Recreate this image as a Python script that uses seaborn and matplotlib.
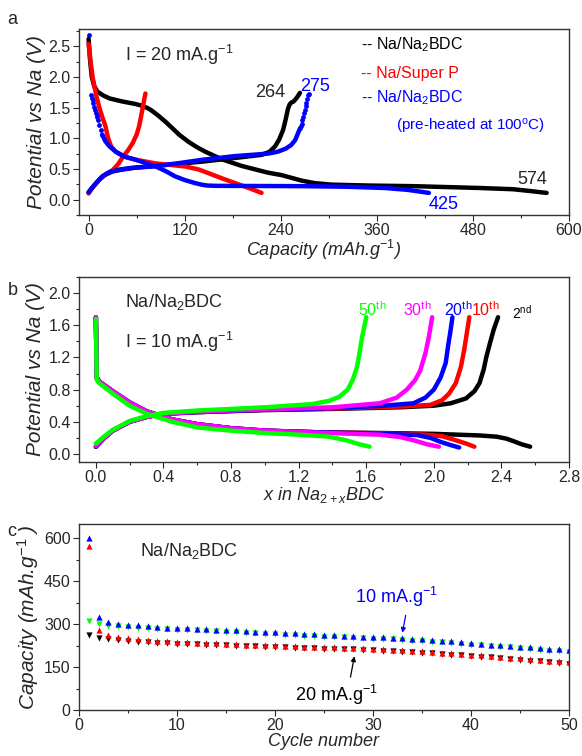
import matplotlib.pyplot as plt
import matplotlib.ticker as mticker
import seaborn as sns

sns.set_theme(style="ticks")
plt.rcParams["font.family"] = ["Liberation Sans", "DejaVu Sans"]
plt.rcParams["mathtext.fontset"] = "custom"
plt.rcParams["mathtext.rm"] = "Liberation Sans"
plt.rcParams["mathtext.it"] = "Liberation Sans:italic"
plt.rcParams["mathtext.bf"] = "Liberation Sans:bold"

# ---- panel a: first cycle at 20 mA/g ----
bdc_dis_x = [0, 2, 4, 7, 11, 18, 26, 42, 58, 67, 74, 79, 87, 96, 105, 113, 125, 136, 146, 166, 191, 224, 241,
             255, 266, 282, 303, 350, 406, 489, 530, 552, 572]
bdc_dis_y = [2.62, 2.25, 2.0, 1.85, 1.76, 1.70, 1.65, 1.6, 1.56, 1.53, 1.49, 1.45, 1.37, 1.27, 1.16, 1.06, 0.94,
             0.85, 0.78, 0.66, 0.55, 0.44, 0.40, 0.35, 0.31, 0.27, 0.245, 0.23, 0.22, 0.19, 0.17, 0.14, 0.11]
bdc_chg_x = [0, 5, 13, 20, 30, 42, 58, 100, 142, 183, 216, 226, 233, 238, 243, 246, 249, 251, 253, 256, 260, 264]
bdc_chg_y = [0.12, 0.2, 0.32, 0.4, 0.46, 0.49, 0.52, 0.57, 0.62, 0.68, 0.73, 0.78, 0.87, 0.98, 1.14, 1.3, 1.48,
             1.55, 1.58, 1.60, 1.66, 1.74]

sp_dis_x = [0, 2, 5, 9, 13, 17, 21, 24, 28, 34, 45, 59, 84, 121, 138, 150, 166, 183, 200, 216]
sp_dis_y = [2.54, 2.3, 2.0, 1.73, 1.52, 1.35, 1.2, 1.02, 0.87, 0.78, 0.70, 0.65, 0.59, 0.54, 0.49, 0.43, 0.35,
            0.27, 0.19, 0.11]
sp_chg_x = [0, 5, 13, 20, 30, 37, 42, 49, 55, 60, 63, 65, 67, 69, 71]
sp_chg_y = [0.1, 0.2, 0.32, 0.4, 0.48, 0.58, 0.68, 0.8, 0.92, 1.06, 1.19, 1.32, 1.46, 1.6, 1.73]

heat_dis_dot_x = [0, 3, 4, 5, 6, 7, 8, 9, 10, 11, 12, 13, 15, 17]
heat_dis_dot_y = [2.68, 1.70, 1.66, 1.62, 1.57, 1.51, 1.46, 1.42, 1.38, 1.35, 1.30, 1.22, 1.14, 1.06]
heat_dis_x = [17, 21, 26, 34, 45, 59, 84, 97, 108, 120, 133, 141, 148, 160, 266, 324, 370, 398, 412, 425]
heat_dis_y = [1.06, 0.95, 0.87, 0.78, 0.70, 0.65, 0.54, 0.46, 0.38, 0.32, 0.27, 0.245, 0.23, 0.225, 0.22, 0.21,
              0.19, 0.16, 0.135, 0.11]
heat_chg_x = [0, 6, 17, 26, 38, 55, 80, 110, 142, 183, 224, 236, 246, 253, 258, 264]
heat_chg_y = [0.12, 0.22, 0.38, 0.45, 0.49, 0.52, 0.54, 0.59, 0.65, 0.71, 0.75, 0.78, 0.83, 0.89, 0.97, 1.16]
heat_chg_dot_x = [264, 265, 266, 267, 268, 269, 270, 271, 272, 273, 274, 275]
heat_chg_dot_y = [1.16, 1.20, 1.24, 1.30, 1.35, 1.41, 1.46, 1.52, 1.58, 1.64, 1.70, 1.72]

# ---- panel b: cycles at 10 mA/g ----
cycles = ["2nd", "10th", "20th", "30th", "50th"]
cycle_colors = ["#000000", "#ff0000", "#0000ff", "#ff00ff", "#00ff00"]
dis_x = {
    "2nd": [0, 0.005, 0.02, 0.1, 0.2, 0.3, 0.45, 0.6, 0.8, 1.0, 1.3, 1.7, 2.0, 2.27, 2.37, 2.43, 2.47, 2.52, 2.57],
    "10th": [0, 0.005, 0.02, 0.1, 0.2, 0.3, 0.45, 0.6, 0.8, 1.0, 1.3, 1.7, 1.95, 2.05, 2.13, 2.19, 2.24],
    "20th": [0, 0.005, 0.02, 0.1, 0.2, 0.3, 0.45, 0.6, 0.8, 1.0, 1.3, 1.7, 1.9, 1.98, 2.04, 2.1, 2.15],
    "30th": [0, 0.005, 0.02, 0.1, 0.2, 0.3, 0.45, 0.6, 0.8, 1.0, 1.3, 1.68, 1.8, 1.88, 1.96, 2.03],
    "50th": [0, 0.005, 0.02, 0.1, 0.2, 0.3, 0.45, 0.6, 0.8, 1.0, 1.2, 1.38, 1.48, 1.56, 1.62],
}
dis_y = {
    "2nd": [1.70, 0.95, 0.9, 0.78, 0.64, 0.53, 0.43, 0.37, 0.32, 0.29, 0.27, 0.26, 0.25, 0.23, 0.215, 0.19, 0.16,
            0.12, 0.09],
    "10th": [1.70, 0.95, 0.9, 0.78, 0.64, 0.53, 0.43, 0.37, 0.32, 0.29, 0.27, 0.255, 0.24, 0.22, 0.17, 0.13, 0.09],
    "20th": [1.70, 0.95, 0.9, 0.78, 0.64, 0.53, 0.43, 0.37, 0.32, 0.29, 0.27, 0.25, 0.235, 0.2, 0.15, 0.11, 0.08],
    "30th": [1.70, 0.95, 0.9, 0.78, 0.64, 0.53, 0.43, 0.37, 0.32, 0.29, 0.265, 0.24, 0.21, 0.17, 0.12, 0.09],
    "50th": [1.68, 0.92, 0.88, 0.75, 0.6, 0.5, 0.4, 0.33, 0.29, 0.26, 0.24, 0.215, 0.17, 0.12, 0.09],
}
chg_x = {
    "2nd": [0, 0.05, 0.1, 0.2, 0.3, 0.4, 0.6, 1.0, 1.4, 1.8, 2.0, 2.1, 2.19, 2.24, 2.27, 2.295, 2.31, 2.335,
            2.355, 2.38],
    "10th": [0, 0.05, 0.1, 0.2, 0.3, 0.4, 0.6, 1.0, 1.4, 1.8, 1.98, 2.05, 2.09, 2.13, 2.16, 2.18, 2.195, 2.21],
    "20th": [0, 0.05, 0.1, 0.2, 0.3, 0.4, 0.6, 1.0, 1.4, 1.7, 1.88, 1.95, 2.0, 2.04, 2.07, 2.085, 2.1, 2.11],
    "30th": [0, 0.05, 0.1, 0.2, 0.3, 0.4, 0.6, 1.0, 1.4, 1.68, 1.78, 1.84, 1.89, 1.92, 1.95, 1.97, 1.99],
    "50th": [0, 0.05, 0.1, 0.2, 0.3, 0.4, 0.6, 1.0, 1.28, 1.38, 1.44, 1.49, 1.52, 1.545, 1.56, 1.575, 1.60],
}
chg_y = {
    "2nd": [0.09, 0.2, 0.29, 0.4, 0.46, 0.5, 0.52, 0.545, 0.56, 0.58, 0.6, 0.63, 0.69, 0.78, 0.88, 1.05, 1.2, 1.4,
            1.55, 1.70],
    "10th": [0.09, 0.2, 0.29, 0.4, 0.46, 0.5, 0.52, 0.55, 0.565, 0.59, 0.61, 0.67, 0.75, 0.88, 1.08, 1.3, 1.5, 1.70],
    "20th": [0.09, 0.2, 0.29, 0.4, 0.46, 0.5, 0.52, 0.55, 0.57, 0.6, 0.63, 0.7, 0.8, 0.95, 1.13, 1.35, 1.55, 1.70],
    "30th": [0.10, 0.2, 0.29, 0.4, 0.46, 0.5, 0.525, 0.555, 0.58, 0.63, 0.7, 0.8, 0.92, 1.04, 1.25, 1.45, 1.70],
    "50th": [0.13, 0.22, 0.3, 0.41, 0.47, 0.51, 0.54, 0.58, 0.62, 0.66, 0.71, 0.8, 0.92, 1.08, 1.25, 1.45, 1.70],
}

# ---- panel c: cycling ----
cycle_no = list(range(1, 51))
chg10 = [602, 325, 308, 302, 298, 296, 293, 290, 288, 286, 285, 284, 282, 281, 279, 278, 276, 274, 273, 272,
         270, 268, 266, 265, 263, 261, 260, 259, 257, 256, 254, 253, 251, 249, 247, 245, 243, 241, 238, 234,
         232, 229, 227, 225, 222, 220, 217, 214, 212, 209]
dis10 = [312, 302, 294, 292, 289, 287, 286, 284, 282, 280, 279, 278, 276, 275, 273, 272, 270, 268, 267, 266,
         264, 262, 260, 259, 257, 255, 254, 253, 251, 250, 248, 247, 245, 243, 241, 239, 237, 235, 232, 228,
         226, 223, 221, 219, 216, 214, 211, 208, 206, 203]
chg20 = [575, 278, 262, 256, 251, 248, 246, 243, 241, 239, 238, 236, 235, 233, 232, 230, 229, 228, 227, 226,
         225, 223, 222, 221, 220, 219, 218, 217, 216, 214, 213, 211, 209, 207, 205, 203, 201, 199, 196, 193,
         191, 189, 186, 183, 181, 178, 175, 173, 170, 167]
dis20 = [262, 252, 247, 244, 241, 239, 237, 235, 233, 232, 231, 230, 229, 228, 227, 225, 224, 223, 222, 221,
         220, 218, 217, 216, 215, 214, 213, 212, 211, 209, 208, 206, 204, 202, 200, 198, 196, 194, 191, 188,
         186, 184, 181, 178, 176, 173, 170, 168, 165, 162]

fig = plt.figure(figsize=(5.82, 7.56), dpi=100)
ax_a = fig.add_axes([0.1357, 0.7156, 0.842, 0.246])
ax_b = fig.add_axes([0.1357, 0.3889, 0.842, 0.2447])
ax_c = fig.add_axes([0.1357, 0.0608, 0.842, 0.246])

TICK = 11.5
LAB = 13
lw = 3.2
line_kw = dict(lw=lw, sort=False, estimator=None, solid_joinstyle="round", solid_capstyle="round")


def curve(ax, x, y, color):
    sns.lineplot(x=x, y=y, ax=ax, color=color, **line_kw)


curve(ax_a, bdc_dis_x, bdc_dis_y, "black")
curve(ax_a, bdc_chg_x, bdc_chg_y, "black")
curve(ax_a, sp_dis_x, sp_dis_y, "#ff0000")
curve(ax_a, sp_chg_x, sp_chg_y, "#ff0000")
curve(ax_a, heat_dis_x, heat_dis_y, "#0000ff")
curve(ax_a, heat_chg_x, heat_chg_y, "#0000ff")
sns.scatterplot(x=heat_dis_dot_x, y=heat_dis_dot_y, ax=ax_a, color="#0000ff", s=12, linewidth=0)
sns.scatterplot(x=heat_chg_dot_x, y=heat_chg_dot_y, ax=ax_a, color="#0000ff", s=12, linewidth=0)

ax_a.set_xlim(-12, 600)
ax_a.set_ylim(-0.25, 2.78)
ax_a.xaxis.set_major_locator(mticker.MultipleLocator(120))
ax_a.xaxis.set_minor_locator(mticker.MultipleLocator(60))
ax_a.yaxis.set_major_locator(mticker.MultipleLocator(0.5))
ax_a.yaxis.set_minor_locator(mticker.MultipleLocator(0.25))
ax_a.yaxis.set_major_formatter(mticker.FormatStrFormatter("%.1f"))
ax_a.set_xlabel("Capacity (mAh.g$^{-1}$)", fontsize=LAB, style="italic", labelpad=0)
ax_a.set_ylabel("Potential vs Na (V)", fontsize=15, style="italic", labelpad=2)
ax_a.text(46, 2.35, "I = 20 mA.g$^{-1}$", fontsize=LAB, va="center")
ax_a.text(340, 2.52, "-- Na/Na$_2$BDC", fontsize=11.5, va="center", color="black")
ax_a.text(340, 2.05, "-- Na/Super P", fontsize=11.5, va="center", color="#ff0000")
ax_a.text(340, 1.67, "-- Na/Na$_2$BDC", fontsize=11.5, va="center", color="#0000ff")
ax_a.text(384, 1.19, "(pre-heated at 100$^{\\rm o}$C)", fontsize=11, va="center", color="#0000ff")
ax_a.text(245, 1.74, "264", fontsize=LAB, va="center", ha="right")
ax_a.text(264, 1.84, "275", fontsize=LAB, va="center", color="#0000ff")
ax_a.text(535, 0.33, "574", fontsize=LAB, va="center")
ax_a.text(425, -0.08, "425", fontsize=LAB, va="center", color="#0000ff")

for cyc, col in zip(cycles, cycle_colors):
    curve(ax_b, dis_x[cyc], dis_y[cyc], col)
    curve(ax_b, chg_x[cyc], chg_y[cyc], col)

ax_b.set_xlim(-0.1, 2.8)
ax_b.set_ylim(-0.1, 2.2)
ax_b.xaxis.set_major_locator(mticker.MultipleLocator(0.4))
ax_b.xaxis.set_minor_locator(mticker.MultipleLocator(0.2))
ax_b.yaxis.set_major_locator(mticker.MultipleLocator(0.4))
ax_b.yaxis.set_minor_locator(mticker.MultipleLocator(0.2))
ax_b.xaxis.set_major_formatter(mticker.FormatStrFormatter("%.1f"))
ax_b.yaxis.set_major_formatter(mticker.FormatStrFormatter("%.1f"))
ax_b.set_xlabel("x in Na$_{2+x}$BDC", fontsize=LAB, style="italic", labelpad=0)
ax_b.set_ylabel("Potential vs Na (V)", fontsize=15, style="italic", labelpad=2)
ax_b.text(0.17, 1.89, "Na/Na$_2$BDC", fontsize=LAB, va="center")
ax_b.text(0.17, 1.39, "I = 10 mA.g$^{-1}$", fontsize=LAB, va="center")
label_pos = {"50th": 1.55, "30th": 1.82, "20th": 2.06, "10th": 2.22, "2nd": 2.46}
label_txt = {"2nd": "2$^{\\rm nd}$", "10th": "10$^{\\rm th}$", "20th": "20$^{\\rm th}$",
             "30th": "30$^{\\rm th}$", "50th": "50$^{\\rm th}$"}
for cyc, col in zip(cycles, cycle_colors):
    ax_b.text(label_pos[cyc], 1.8 if cyc != "2nd" else 1.76, label_txt[cyc],
              fontsize=11.5 if cyc != "2nd" else 10, va="center", color=col)

mk = 20
sns.scatterplot(x=cycle_no, y=dis20, ax=ax_c, color="black", marker="v", s=mk, linewidth=0)
sns.scatterplot(x=cycle_no, y=chg20, ax=ax_c, color="#ff0000", marker="^", s=mk, linewidth=0)
sns.scatterplot(x=cycle_no, y=dis10, ax=ax_c, color="#00ff00", marker="v", s=mk, linewidth=0)
sns.scatterplot(x=cycle_no, y=chg10, ax=ax_c, color="#0000ff", marker="^", s=mk, linewidth=0)

ax_c.set_xlim(0, 50)
ax_c.set_ylim(0, 650)
ax_c.xaxis.set_major_locator(mticker.MultipleLocator(10))
ax_c.xaxis.set_minor_locator(mticker.MultipleLocator(5))
ax_c.yaxis.set_major_locator(mticker.MultipleLocator(150))
ax_c.yaxis.set_minor_locator(mticker.MultipleLocator(75))
ax_c.set_xlabel("Cycle number", fontsize=LAB, style="italic", labelpad=0)
ax_c.set_ylabel("Capacity (mAh.g$^{-1}$ )", fontsize=15, style="italic", labelpad=2)
ax_c.text(6.2, 555, "Na/Na$_2$BDC", fontsize=LAB, va="center")
ax_c.annotate("10 mA.g$^{-1}$", xy=(33, 270), xytext=(28.2, 394), fontsize=LAB, color="#0000ff",
              va="center", arrowprops=dict(arrowstyle="-|>", color="#0000ff", lw=0.9, mutation_scale=7,
                                           shrinkA=2, shrinkB=0, relpos=(0.62, 0.0)))
ax_c.annotate("20 mA.g$^{-1}$", xy=(28.1, 188), xytext=(22.0, 52), fontsize=LAB, color="black",
              va="center", arrowprops=dict(arrowstyle="-|>", color="black", lw=0.9, mutation_scale=7,
                                           shrinkA=2, shrinkB=0, relpos=(0.66, 1.0)))

for ax in (ax_a, ax_b, ax_c):
    ax.tick_params(axis="both", which="major", direction="out", length=4, width=0.8,
                   labelsize=TICK, pad=2, top=False, right=False)
    ax.tick_params(axis="both", which="minor", direction="out", length=2, width=0.8,
                   top=False, right=False)
    for sp in ax.spines.values():
        sp.set_color("#333333")
        sp.set_linewidth(1.0)

fig.text(0.013, 0.985, "a", fontsize=LAB, va="top")
fig.text(0.013, 0.627, "b", fontsize=LAB, va="top")
fig.text(0.013, 0.308, "c", fontsize=LAB, va="top")

fig.savefig("out.png", dpi=100)
